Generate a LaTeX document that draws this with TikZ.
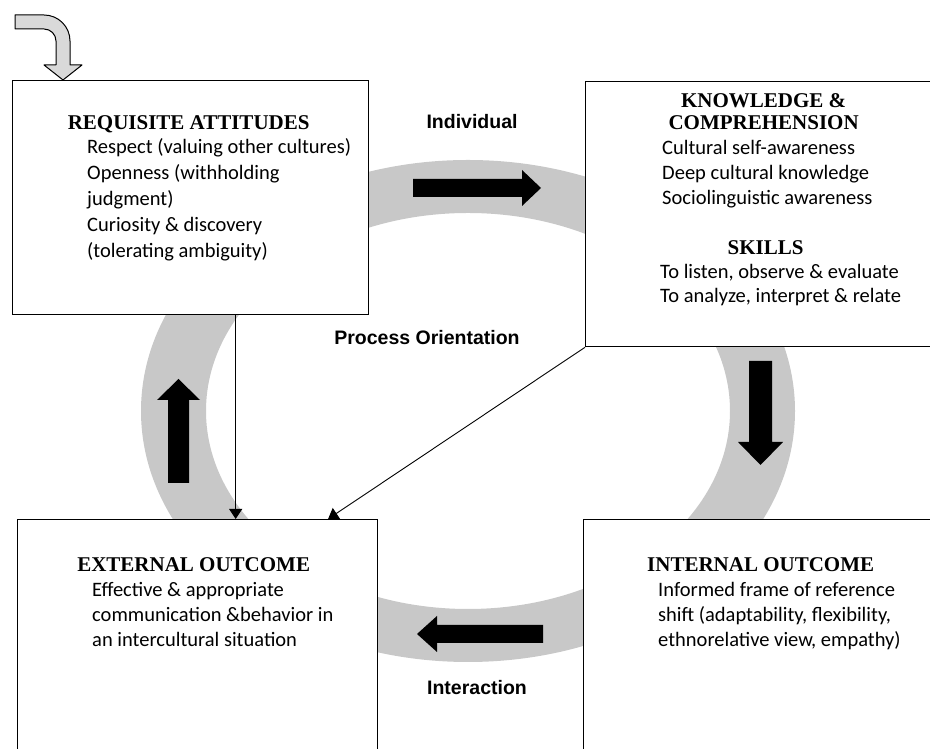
\documentclass[tikz,border=0pt]{standalone}
\usepackage{fontspec}
\setmainfont{Carlito}
\newfontfamily\headfont{Liberation Serif}
\newfontfamily\tagfont{Liberation Sans}
\usetikzlibrary{positioning,calc,arrows.meta}
\definecolor{RingGray}{HTML}{C8C8C8}
\definecolor{EntryGray}{HTML}{D9D9D9}
\definecolor{FlowBlack}{HTML}{000000}

\begin{document}
\begin{tikzpicture}[x=1pt,y=1pt,
    box/.style={draw,line width=1.3pt,fill=white,anchor=north west,inner sep=0pt},
    boxhead/.style={font=\headfont\bfseries\fontsize{21}{22}\selectfont,align=center,anchor=base,inner sep=0pt},
    boxbody/.style={font=\fontsize{20.5}{26}\selectfont,align=left,anchor=base west,inner sep=0pt},
    tag/.style={font=\tagfont\bfseries\fontsize{19.5}{22}\selectfont,inner sep=0pt},
    link/.style={line width=0.9pt,-{Triangle[length=10pt,width=13pt]}}]
  \useasboundingbox (0,0) rectangle (930,749);
  % process ring
  \fill[RingGray,even odd rule] (468,338) ellipse (327 and 251) (468,338) ellipse (262 and 198);
  \fill[FlowBlack] (413,552) -- (522,552) -- (522,543) -- (541,561) -- (522,579) -- (522,570) -- (413,570) -- cycle;
  \fill[FlowBlack] (749,388) -- (772,388) -- (772,307) -- (783,307) -- (760.5,284) -- (738,307) -- (749,307) -- cycle;
  \fill[FlowBlack] (543,106) -- (437,106) -- (437,97) -- (417,115) -- (437,133) -- (437,124) -- (543,124) -- cycle;
  \fill[FlowBlack] (168,266) -- (189,266) -- (189,349) -- (200,349) -- (178.5,370) -- (157,349) -- (168,349) -- cycle;
  % entry arrow
  \filldraw[fill=EntryGray,draw=black,line width=1pt,line join=round]
    (15,734) -- (44,734) arc[start angle=90,end angle=0,radius=26] -- (70,684) -- (82,684)
    -- (63,669) -- (44,684) -- (56,684) -- (56,708) arc[start angle=0,end angle=90,radius=12]
    -- (15,720) -- cycle;
  % boxes
  \node[box,minimum width=356pt,minimum height=234pt] (attitudes) at (12,669) {};
  \node[box,minimum width=360pt,minimum height=265pt] (knowledge) at (585,668) {};
  \node[box,minimum width=360pt,minimum height=250pt] (extout) at (17,230) {};
  \node[box,minimum width=362pt,minimum height=250pt] (intout) at (583,230) {};
  % box texts (base = last line)
  \node[boxhead] (attitudeshead) at ([xshift=-2pt,yshift=-50pt]attitudes.north) {REQUISITE ATTITUDES};
  \node[boxbody] (attitudesbody) at ([xshift=75pt,yshift=-178pt]attitudes.north west)
    {Respect (valuing other cultures)\\Openness (withholding\\judgment)\\Curiosity \& discovery\\(tolerating ambiguity)};
  \node[boxhead] (knowledgehead) at ([xshift=-2pt,yshift=-49pt]knowledge.north) {KNOWLEDGE \&\\COMPREHENSION};
  \node[boxbody,font=\fontsize{20.5}{25}\selectfont] (knowledgebody) at ([xshift=77pt,yshift=-124pt]knowledge.north west)
    {Cultural self-awareness\\Deep cultural knowledge\\Sociolinguistic awareness};
  \node[boxhead] (skillshead) at ([yshift=-174pt]knowledge.north) {SKILLS};
  \node[boxbody,font=\fontsize{20.5}{24}\selectfont] (skillsbody) at ([xshift=75pt,yshift=-222pt]knowledge.north west)
    {To listen, observe \& evaluate\\To analyze, interpret \& relate};
  \node[boxhead] (extouthead) at ([xshift=-4pt,yshift=-53pt]extout.north) {EXTERNAL OUTCOME};
  \node[boxbody,font=\fontsize{20.5}{25}\selectfont] (extoutbody) at ([xshift=75pt,yshift=-128pt]extout.north west)
    {Effective \& appropriate\\communication \&behavior in\\an intercultural situation};
  \node[boxhead] (intouthead) at ([xshift=-4pt,yshift=-53pt]intout.north) {INTERNAL OUTCOME};
  \node[boxbody,font=\fontsize{20.5}{25}\selectfont] (intoutbody) at ([xshift=75pt,yshift=-128pt]intout.north west)
    {Informed frame of reference\\shift (adaptability, flexibility,\\ethnorelative view, empathy)};
  % ring labels
  \node[tag] (individual) at (472,627) {Individual};
  \node[tag] (orientation) at (427,411) {Process Orientation};
  \node[tag] (interaction) at (477,61) {Interaction};
  % connectors
  \coordinate (attdrop) at ($(attitudes.south west)!0.626!(attitudes.south east)$);
  \draw[link] (attdrop) -- (attdrop |- extout.north);
  \draw[link] (knowledge.south west) -- ($(extout.north west)!0.861!(extout.north east)$);
\end{tikzpicture}
\end{document}
